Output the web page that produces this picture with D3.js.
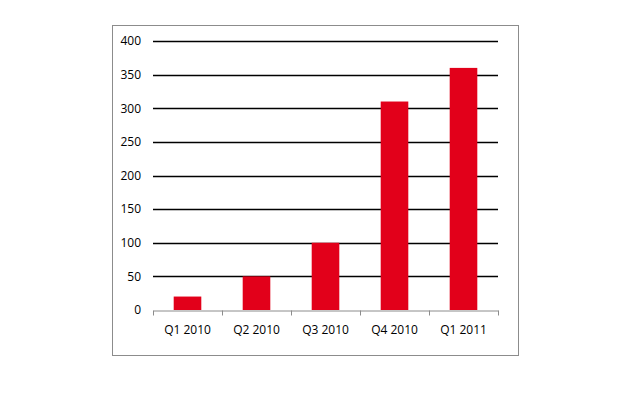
<!DOCTYPE html>
<html>
<head>
<meta charset="utf-8">
<script src="https://cdn.jsdelivr.net/npm/d3@7"></script>
<style>
  body { margin: 0; background: #fff; }
  svg { display: block; }
</style>
</head>
<body>
<div id="chart"></div>
<script>
// data
var categories = ['Q1 2010', 'Q2 2010', 'Q3 2010', 'Q4 2010', 'Q1 2011'];
var values = [20, 50, 100, 310, 360];
var yTicks = [0, 50, 100, 150, 200, 250, 300, 350, 400];

var W = 640, H = 400;
var plot = { left: 153, right: 498, top: 41, bottom: 310 };

var svg = d3.select('#chart').append('svg')
    .attr('width', W)
    .attr('height', H);

// outer frame
svg.append('rect')
    .attr('x', 112.5).attr('y', 25.5)
    .attr('width', 406).attr('height', 330)
    .attr('fill', 'none')
    .attr('stroke', '#8c8c8c')
    .attr('stroke-width', 1);

var x = d3.scaleBand()
    .domain(categories)
    .range([plot.left, plot.right])
    .padding(0);

var y = d3.scaleLinear()
    .domain([0, 400])
    .range([plot.bottom, plot.top]);

// gridlines
svg.append('g')
    .selectAll('line')
    .data(yTicks.filter(function (d) { return d > 0; }))
    .enter().append('line')
    .attr('x1', plot.left).attr('x2', plot.right)
    .attr('y1', function (d) { return Math.round(y(d)) + 0.5; })
    .attr('y2', function (d) { return Math.round(y(d)) + 0.5; })
    .attr('stroke', '#000')
    .attr('stroke-width', 1.3);

// y axis labels
var yAxis = svg.append('g')
    .attr('transform', 'translate(' + plot.left + ',0)')
    .call(d3.axisLeft(y).tickValues(yTicks).tickSize(0).tickPadding(12));
yAxis.select('.domain').remove();
yAxis.selectAll('text')
    .style('font', 'normal 12px "Open Sans", sans-serif')
    .attr('fill', '#000');

// bars
var barW = x.bandwidth() * 0.4;
svg.append('g')
    .selectAll('rect')
    .data(values)
    .enter().append('rect')
    .attr('x', function (d, i) { return x(categories[i]) + (x.bandwidth() - barW) / 2; })
    .attr('y', function (d) { return y(d); })
    .attr('width', barW)
    .attr('height', function (d) { return y(0) - y(d); })
    .attr('fill', '#e2001a');

// category axis
var xAxis = svg.append('g')
    .attr('transform', 'translate(0,' + (plot.bottom + 0.5) + ')')
    .call(d3.axisBottom(x).tickSize(0).tickPadding(15));
xAxis.select('.domain').attr('stroke', '#8c8c8c');
xAxis.selectAll('text')
    .style('font', 'normal 12px "Open Sans", sans-serif')
    .attr('fill', '#000');

// tick marks between categories
var bounds = categories.map(function (c) { return x(c); }).concat([plot.right]);
xAxis.selectAll('.sep')
    .data(bounds)
    .enter().append('line')
    .attr('class', 'sep')
    .attr('x1', function (d) { return Math.round(d) + 0.5; })
    .attr('x2', function (d) { return Math.round(d) + 0.5; })
    .attr('y1', 0).attr('y2', 5)
    .attr('stroke', '#8c8c8c');
</script>
</body>
</html>
